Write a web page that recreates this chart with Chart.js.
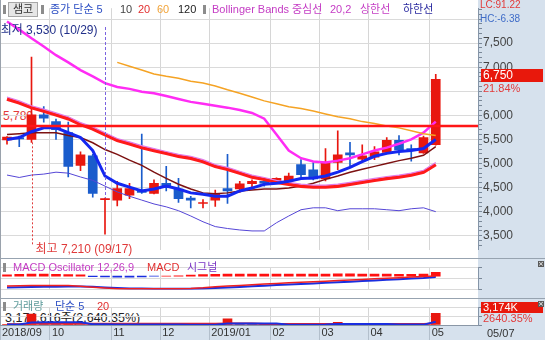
<!DOCTYPE html>
<html>
<head>
<meta charset="utf-8">
<script src="https://cdn.jsdelivr.net/npm/chart.js@4.4.1/dist/chart.umd.min.js"></script>
<style>
  html, body { margin: 0; padding: 0; width: 545px; height: 340px; overflow: hidden; background: #fff; }
  #wrap { position: relative; width: 545px; height: 340px; }
  canvas { position: absolute; left: 0; }
  .bg { position: absolute; background: #d6e1ed; }
  .sep { position: absolute; left: 0; width: 545px; height: 1px; background: #97a3b0; }
  .t { position: absolute; white-space: nowrap; font-family: "Liberation Sans", "Noto Sans CJK KR", sans-serif; font-size: 11px; line-height: 13px; }
  .mk { position: absolute; width: 3px; height: 9px; background: #8c8c8c; }
  .box { position: absolute; color: #fff; background: #e8180c; padding-left: 2px; }
  .xi { position: absolute; width: 6px; height: 6px; background: #5a5a5a; color: #fff; font: 7px/6px "DejaVu Sans"; text-align: center; }
</style>
</head>
<body>
<div id="wrap">
  <div class="bg" style="left:478px;top:0;width:67px;height:340px"></div>
  <div class="bg" style="left:0;top:325px;width:478px;height:15px"></div>

  <!-- texts that sit under the bars -->
  <div class="t" style="left:3px;top:110px;font-size:12px;color:#e23a3a">5,780</div>
  <div class="t" style="left:5px;top:312px;font-size:12.5px;color:#222">3,174,616주(2,640.35%)</div>

  <canvas id="main" width="545" height="258" style="top:0;width:545px;height:258px"></canvas>
  <canvas id="macd" width="545" height="39" style="top:259px;width:545px;height:39px"></canvas>
  <canvas id="vol" width="545" height="41" style="top:299px;width:545px;height:41px"></canvas>

  <div class="sep" style="top:258px"></div>
  <div class="sep" style="top:298px"></div>
  <div style="position:absolute;left:0;top:0;width:1px;height:325px;background:#9aa2ac"></div>

  <!-- price panel legend -->
  <div class="mk" style="left:3px;top:5px"></div>
  <div class="t" style="left:8px;top:2px;width:28px;height:13px;background:#e6e6e6;border:1px solid #a6a6a6;text-align:center;color:#333">샘코</div>
  <div class="mk" style="left:41px;top:5px"></div>
  <div class="t" style="left:50px;top:3px;color:#2d4fc4">종가 단순 5</div>
  <div class="t" style="left:120px;top:3px;color:#444">10</div>
  <div class="t" style="left:138px;top:3px;color:#e23030">20</div>
  <div class="t" style="left:157px;top:3px;color:#f2a43a">60</div>
  <div class="t" style="left:178px;top:3px;color:#222">120</div>
  <div class="mk" style="left:203px;top:5px"></div>
  <div class="t" style="left:212px;top:3px;color:#c43cc4">Bollinger Bands</div>
  <div class="t" style="left:292px;top:3px;color:#c43cc4">중심선</div>
  <div class="t" style="left:330px;top:3px;color:#c43cc4">20,2</div>
  <div class="t" style="left:360px;top:3px;color:#c43cc4">상한선</div>
  <div class="t" style="left:403px;top:3px;color:#2a2aa0">하한선</div>

  <!-- right panel -->
  <div class="t" style="left:480px;top:-2px;font-size:10px;color:#e23a3a">LC:91.22</div>
  <div class="t" style="left:480px;top:12px;font-size:10px;color:#3f6cc8">HC:-6.38</div>
  <div class="t box" style="left:481px;top:69px;width:60px;height:13px;font-size:12px">6,750</div>
  <div class="t" style="left:483px;top:82px;color:#e23a3a">21.84%</div>

  <!-- MACD legend -->
  <div class="mk" style="left:3px;top:263px"></div>
  <div class="t" style="left:13px;top:261px;color:#c43cc4">MACD Oscillator 12,26,9</div>
  <div class="t" style="left:147px;top:261px;color:#e23030">MACD</div>
  <div class="t" style="left:187px;top:261px;color:#7a34c4">시그널</div>
  <div class="xi" style="left:538px;top:261px">×</div>

  <!-- volume legend -->
  <div class="mk" style="left:3px;top:302px"></div>
  <div class="t" style="left:13px;top:300px;color:#5f9c9c">거래량</div>
  <div class="t" style="left:55px;top:300px;color:#2d4fc4">단순 5</div>
  <div class="t" style="left:97px;top:300px;color:#e23030">20</div>
  <div class="t box" style="left:481px;top:302px;width:60px;height:11px;line-height:11px">3,174K</div>
  <div class="t" style="left:483px;top:312px;color:#e23a3a">2640.35%</div>
  <div class="xi" style="left:538px;top:301px">×</div>
  <div class="t" style="left:487px;top:327px;color:#333">05/07</div>
</div>

<script>
// weekly candles, 2018/09/03 .. 2019/05/06
const weeks = ['09/03', '09/10', '09/17', '09/24', '10/01', '10/08', '10/15', '10/22', '10/29',
  '11/05', '11/12', '11/19', '11/26', '12/03', '12/10', '12/17', '12/24', '12/31',
  '01/07', '01/14', '01/21', '01/28', '02/04', '02/11', '02/18', '02/25',
  '03/04', '03/11', '03/18', '03/25', '04/01', '04/08', '04/15', '04/22', '04/29', '05/06'];

const openP = [5490, 5540, 5500, 6010, 5870, 5640, 4960, 5160, 4250, 4240, 4340, 4450, 4380, 4590, 4470, 4280, 4170, 4240,
  4480, 4470, 4580, 4630, 4610, 4640, 4980, 4870, 4680, 5020, 5220, 5090, 5130, 5230, 5480, 5310, 5220, 5390];
const highP = [5560, 5570, 7210, 6180, 5920, 5860, 5240, 5190, 4280, 4630, 4590, 5610, 4660, 4940, 4690, 4320, 4250, 4450,
  5190, 4630, 4660, 4670, 4700, 4800, 5080, 5020, 5310, 5680, 5440, 5390, 5350, 5540, 5580, 5390, 5570, 6850];
const lowP = [5400, 5350, 5440, 5860, 5500, 4720, 4850, 4300, 3530, 4120, 4270, 4380, 4370, 4430, 4190, 4080, 4080, 4110,
  4170, 4400, 4470, 4530, 4580, 4630, 4720, 4660, 4640, 4870, 4940, 5050, 5080, 5210, 5180, 5050, 5210, 5380];
const closeP = [5550, 5510, 6010, 5940, 5700, 4940, 5180, 4380, 4260, 4480, 4480, 4400, 4590, 4500, 4270, 4240, 4190, 4370,
  4430, 4580, 4630, 4590, 4690, 4740, 4770, 4680, 5030, 5180, 5180, 5160, 5240, 5480, 5280, 5275, 5540, 6750];

const ma5 = [5500, 5540, 5660, 5740, 5740, 5640, 5540, 5270, 4740, 4590, 4510, 4430, 4470, 4530, 4470, 4390, 4360, 4320,
  4320, 4430, 4490, 4570, 4590, 4630, 4690, 4700, 4740, 4820, 4920, 5040, 5150, 5210, 5250, 5270, 5310, 5500];
const ma10 = [5600, 5620, 5640, 5640, 5640, 5580, 5540, 5430, 5290, 5190, 5070, 4960, 4820, 4690, 4570, 4470, 4390, 4370,
  4390, 4430, 4450, 4470, 4470, 4490, 4530, 4590, 4670, 4740, 4820, 4880, 4940, 5000, 5060, 5110, 5170, 5350];
const ma20 = [6340, 6260, 6160, 6090, 6010, 5930, 5810, 5720, 5600, 5480, 5410, 5330, 5270, 5210, 5150, 5110, 5040, 4940,
  4880, 4800, 4720, 4670, 4610, 4570, 4530, 4510, 4510, 4530, 4570, 4610, 4650, 4690, 4720, 4760, 4820, 4980];
const ma60 = [null, null, null, null, null, null, null, null, null, 7100, 7020, 6940, 6860, 6810, 6770, 6710, 6670, 6610,
  6530, 6460, 6380, 6300, 6240, 6180, 6140, 6090, 6030, 5970, 5930, 5870, 5830, 5780, 5740, 5680, 5620, 5580];
const bbUpper = [7950, 7780, 7600, 7430, 7250, 7100, 6940, 6810, 6670, 6590, 6550, 6490, 6460, 6400, 6340, 6280, 6240, 6200,
  6160, 6110, 6050, 5930, 5600, 5270, 5110, 5040, 5020, 5060, 5110, 5190, 5270, 5330, 5410, 5500, 5640, 5870];
const bbMid = [6380, 6300, 6200, 6130, 6050, 5970, 5850, 5760, 5640, 5520, 5450, 5370, 5310, 5250, 5190, 5150, 5080, 4980,
  4920, 4840, 4760, 4710, 4650, 4610, 4570, 4550, 4550, 4570, 4610, 4650, 4690, 4730, 4760, 4800, 4860, 5020];
const bbLower = [4760, 4710, 4760, 4780, 4820, 4800, 4720, 4650, 4530, 4410, 4320, 4240, 4160, 4100, 4020, 3910, 3790, 3690,
  3650, 3620, 3600, 3600, 3770, 3910, 4040, 4080, 4080, 4020, 4060, 4060, 4060, 4040, 4020, 4060, 4080, 4000];

const macdOsc = [25, 35, 38, 38, 35, 30, 25, -8, -15, -18, -18, -15, -3, 3, 8, 20, 30, 35,
  38, 40, 40, 40, 40, 40, 40, 38, 40, 42, 42, 40, 40, 38, 36, 36, 40, 72];
const macdLine = [-189, -183, -180, -178, -178, -180, -194, -211, -227, -238, -242, -242, -242, -242, -242, -236, -222, -201,
  -189, -176, -164, -152, -140, -128, -118, -107, -96, -85, -73, -63, -52, -41, -30, -18, -8, 3];
const macdSignal = [-216, -212, -207, -203, -200, -197, -197, -203, -214, -225, -233, -237, -239, -240, -240, -240, -236, -228,
  -218, -206, -194, -182, -171, -160, -150, -139, -128, -116, -105, -93, -82, -69, -58, -46, -35, -18];

const volume = [120000, 150000, 2990000, 300000, 180000, 220000, 140000, 200000, 180000, 120000, 90000, 160000, 100000,
  110000, 90000, 70000, 60000, 110000, 1690000, 120000, 80000, 70000, 70000, 90000, 120000, 90000, 200000, 750000,
  160000, 90000, 90000, 140000, 120000, 80000, 120235, 3174616];
const volMa5 = [170000, 160000, 700000, 750000, 770000, 780000, 760000, 210000, 190000, 170000, 150000, 140000, 130000,
  120000, 110000, 100000, 90000, 90000, 400000, 420000, 420000, 410000, 410000, 90000, 90000, 90000, 110000, 250000,
  260000, 260000, 260000, 250000, 130000, 110000, 110000, 900000];
const volMa20 = [230000, 230000, 360000, 360000, 360000, 360000, 360000, 360000, 360000, 360000, 360000, 360000, 350000,
  350000, 350000, 340000, 340000, 340000, 420000, 420000, 420000, 280000, 280000, 270000, 270000, 270000, 270000, 300000,
  300000, 300000, 300000, 300000, 300000, 300000, 300000, 440000];

const monthLabels = ['2018/09', '10', '11', '12', '2019/01', '02', '03', '04', '05'];
const monthStarts = [0, 4, 9, 13, 17, 22, 26, 30, 35];
const hiddenPriceTicks = [6500, 8000];
const levelPrice = 5780;

const X_MIN = -7 / 12.25;
const X_MAX = 471 / 12.25;
const RED = '#e8170f';
const BLUE = '#1a5ccc';
const fmt = v => v.toLocaleString('en-US');

const candleColors = closeP.map((c, i) => (c >= openP[i] ? RED : BLUE));
const volColors = volume.map((v, i) => (i === 0 || v >= volume[i - 1] ? RED : BLUE));

function pts(arr) {
  return arr.map((v, i) => (v == null ? null : { x: i, y: v })).filter(p => p);
}

function line(arr, color, width, order) {
  return { type: 'line', data: pts(arr), borderColor: color, borderWidth: width, pointRadius: 0, tension: 0, fill: false, order: order };
}

function xAxis(withLabels) {
  return {
    type: 'linear', min: X_MIN, max: X_MAX, offset: false,
    afterBuildTicks: s => { s.ticks = monthStarts.map(m => ({ value: m === 0 ? X_MIN : m - 0.5 })); },
    afterFit: s => { s.height = withLabels ? 15 : 0; },
    border: { display: withLabels, color: '#8a97a6' },
    grid: { color: '#d6d6d6', offset: false, drawTicks: withLabels, tickLength: 15, tickColor: '#b3bfcc' },
    ticks: {
      display: withLabels, autoSkip: false, maxRotation: 0, minRotation: 0, align: 'start',
      labelOffset: 2, padding: -14, color: '#333', font: { family: 'Liberation Sans', size: 11 },
      callback: (v, i) => monthLabels[i]
    }
  };
}

function yAxis(min, max, step, labelFn, gridFn) {
  return {
    position: 'right', min: min, max: max, beginAtZero: false,
    afterFit: s => { s.width = 67; },
    border: { display: true, color: '#8595a8' },
    grid: { color: gridFn, tickColor: '#7a8898', tickLength: 4 },
    ticks: { stepSize: step, includeBounds: false, autoSkip: false, padding: 1, color: '#444',
      font: { family: 'Liberation Sans', size: 12 }, callback: labelFn }
  };
}

const baseOptions = {
  responsive: false, animation: false,
  layout: { padding: 0, autoPadding: false },
  plugins: { legend: { display: false }, tooltip: { enabled: false } }
};

// level line, high / low markers
const annotate = {
  id: 'annotate',
  afterDatasetsDraw(chart) {
    const { ctx, chartArea, scales: { x, y } } = chart;
    ctx.save();
    const yl = y.getPixelForValue(levelPrice);
    ctx.strokeStyle = '#ff1616';
    ctx.lineWidth = 2.5;
    ctx.beginPath();
    ctx.moveTo(chartArea.left, yl);
    ctx.lineTo(chartArea.right, yl);
    ctx.stroke();

    const lowIdx = lowP.indexOf(Math.min(...lowP));
    const hiIdx = highP.indexOf(Math.max(...highP));
    const xl = Math.round(x.getPixelForValue(lowIdx)) + 0.5;
    const xh = Math.round(x.getPixelForValue(hiIdx)) + 0.5;
    ctx.lineWidth = 1;
    ctx.setLineDash([3, 2]);
    ctx.strokeStyle = '#7b63e0';
    ctx.beginPath();
    ctx.moveTo(xl, 27);
    ctx.lineTo(xl, y.getPixelForValue(highP[lowIdx]));
    ctx.stroke();
    ctx.setLineDash([2, 2]);
    ctx.strokeStyle = '#e03a3a';
    ctx.beginPath();
    ctx.moveTo(xh, y.getPixelForValue(lowP[hiIdx]));
    ctx.lineTo(xh, 245);
    ctx.stroke();
    ctx.setLineDash([]);

    ctx.font = '12px "Liberation Sans", "Noto Sans CJK KR"';
    ctx.textBaseline = 'middle';
    ctx.fillStyle = '#22308a';
    ctx.textAlign = 'right';
    ctx.fillText('최저 ' + fmt(lowP[lowIdx]) + ' (' + weeks[lowIdx] + ')', xl - 8, 31);
    ctx.fillStyle = '#e03a3a';
    ctx.textAlign = 'left';
    ctx.fillText('최고 ' + fmt(highP[hiIdx]) + ' (' + weeks[hiIdx] + ')', xh + 3, 250);
    ctx.restore();
  }
};

new Chart(document.getElementById('main'), {
  type: 'bar',
  data: {
    datasets: [
      line(ma5, '#1428f0', 3, 0),
      line(bbMid, '#e07ce8', 1.2, 1),
      line(ma20, '#ff1a1a', 3.5, 2),
      line(ma10, '#7d1212', 1.5, 3),
      line(ma60, '#f5a324', 1.5, 3),
      line(bbUpper, '#ff2cf4', 2.5, 3),
      line(bbLower, '#5546d6', 1, 3),
      { type: 'bar', data: openP.map((o, i) => ({ x: i, y: [o, closeP[i]] })), backgroundColor: candleColors,
        barThickness: 9, grouped: false, minBarLength: 1, order: 10 },
      { type: 'bar', data: lowP.map((l, i) => ({ x: i, y: [l, highP[i]] })), backgroundColor: candleColors,
        barThickness: 1, grouped: false, order: 11 }
    ]
  },
  options: Object.assign({}, baseOptions, {
    scales: {
      x: xAxis(false),
      y: yAxis(3208, 8225, 100,
        v => (v % 500 === 0 && !hiddenPriceTicks.includes(v) ? fmt(v) : ''),
        c => (c.tick && c.tick.value % 500 === 0 ? '#dadada' : 'rgba(0,0,0,0)'))
    }
  }),
  plugins: [annotate]
});

new Chart(document.getElementById('macd'), {
  type: 'bar',
  data: {
    datasets: [
      line(macdLine, '#f02020', 1.5, 0),
      line(macdSignal, '#1a2ee0', 2, 1),
      { type: 'bar', data: pts(macdOsc), backgroundColor: macdOsc.map(v => (v >= 0 ? '#ff1010' : '#1a2ee0')),
        barThickness: 9, grouped: false, order: 5 }
    ]
  },
  options: Object.assign({}, baseOptions, {
    scales: {
      x: xAxis(false),
      y: yAxis(-260, 170, 200, v => (v === 0 ? '0.00' : ''),
        c => (c.tick && c.tick.value === 0 ? '#a9a9a9' : '#dadada'))
    }
  })
});

new Chart(document.getElementById('vol'), {
  type: 'bar',
  data: {
    datasets: [
      line(volMa5, '#1a2ee0', 2, 0),
      line(volMa20, '#f02020', 2, 1),
      { type: 'bar', data: pts(volume), backgroundColor: volColors, barThickness: 9, grouped: false, order: 5 }
    ]
  },
  options: Object.assign({}, baseOptions, {
    scales: {
      x: xAxis(true),
      y: yAxis(0, 4890000, 2500000, () => '', () => '#dadada')
    }
  })
});
</script>
</body>
</html>
